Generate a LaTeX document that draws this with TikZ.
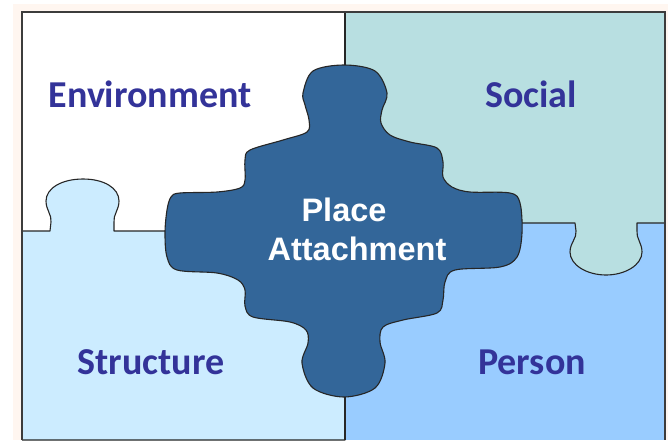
\documentclass[tikz,border=0pt]{standalone}
\usepackage{fontspec}
\newfontfamily\labelfont{Carlito}
\newfontfamily\centerfont{Liberation Sans}
\definecolor{peach}{HTML}{FFF6F0}
\definecolor{socialfill}{HTML}{B8DFE1}
\definecolor{structfill}{HTML}{CCECFF}
\definecolor{personfill}{HTML}{99CCFF}
\definecolor{centerfill}{HTML}{336699}
\definecolor{txtblue}{HTML}{333399}
\definecolor{edge}{HTML}{262626}
\begin{document}
\begin{tikzpicture}[x=1pt,y=-1pt,
  region/.style={draw=edge, line width=1.1pt, line join=round},
  lbl/.style={font=\labelfont\bfseries\fontsize{38}{40}\selectfont, text=txtblue, anchor=base, inner sep=0pt},
  clbl/.style={font=\centerfont\bfseries\fontsize{32.5}{38}\selectfont, text=white, anchor=base, inner sep=0pt}]
\useasboundingbox (0,0) rectangle (671,440);
% background
\fill[peach] (13,4) rectangle (668,440);
% Environment
\fill[white] (22,12) rectangle (345,231);
% Person
\fill[personfill] (345,223) rectangle (665,440);
% Structure with knob
\path[region, fill=structfill] (22,231) -- (50,231) -- (51,222)
  .. controls (52,215) and (46,210) .. (46,201)
  .. controls (46,188) and (62,179) .. (83,179)
  .. controls (104,179) and (119,188) .. (119,201)
  .. controls (119,210) and (113,215) .. (114,222)
  -- (114,231) -- (345,231) -- (345,440) -- (22,440);
% Social with knob
\path[region, fill=socialfill] (345,12) -- (665,12) -- (665,223) -- (637,223) -- (637,231)
  .. controls (636,238) and (642,243) .. (642,252)
  .. controls (642,265) and (625,275) .. (606,275)
  .. controls (587,275) and (570,265) .. (570,252)
  .. controls (570,243) and (577,238) .. (576,231)
  -- (575,223) -- (345,223);
% divider lines
\draw[region] (345,12) -- (345,440);
% centre piece
\draw[region, fill=centerfill] plot[smooth cycle, tension=0.55] coordinates {
 (344,65) (375,71) (387,93) (382,110) (381,123) (390,135) (410,142) (437,148)
 (443,162) (443,177) (452,187) (470,192) (510,193) (520,203) (522,233) (517,257)
 (500,267) (455,270) (445,282) (443,300) (437,313) (403,320) (383,327) (380,342)
 (385,363) (375,388) (344,397) (313,388) (302,363) (308,343) (306,330) (290,322)
 (253,317) (245,306) (245,290) (238,280) (217,273) (177,270) (167,257) (165,233)
 (167,210) (171,197) (180,193) (217,192) (240,188) (245,180) (245,160) (250,150)
 (283,140) (307,132) (309,120) (305,105) (303,93) (313,71)};
% frame
\draw[draw=edge!90, line width=1.8pt] (22,440) -- (22,12) -- (665,12) -- (665,440);
% labels
\node[lbl] (env) at (150,107) {Environment};
\node[lbl] (soc) at (531,107) {Social};
\node[lbl] (str) at (151,374) {Structure};
\node[lbl] (per) at (532,374) {Person};
\node[clbl] (pa1) at (344,221.5) {Place};
\node[clbl] (pa2) at (357,260) {Attachment};
\end{tikzpicture}
\end{document}
